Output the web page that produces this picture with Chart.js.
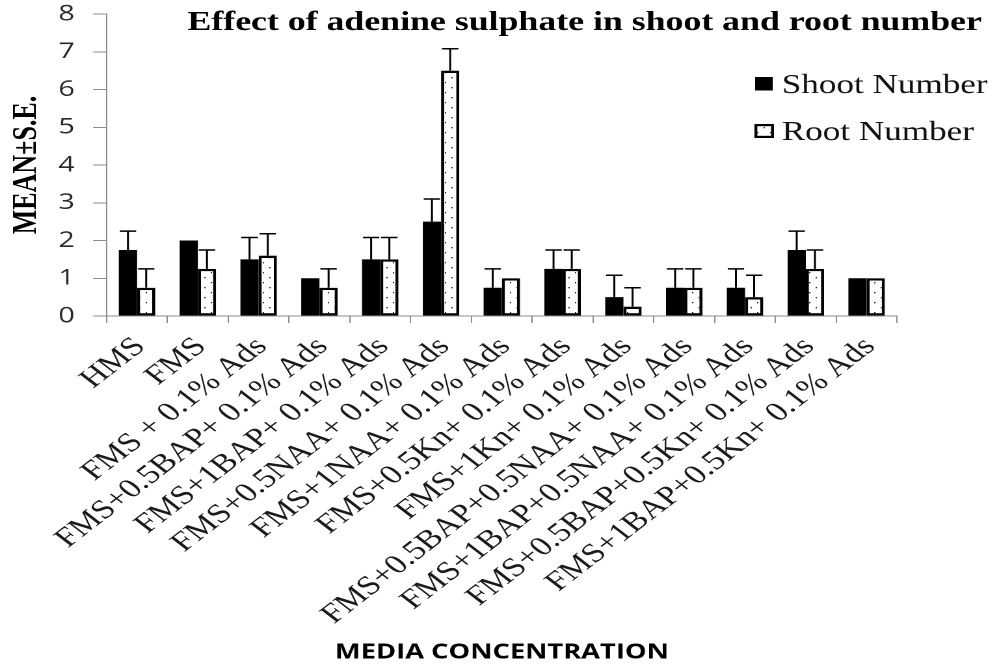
<!DOCTYPE html>
<html>
<head>
<meta charset="utf-8">
<title>Effect of adenine sulphate in shoot and root number</title>
<script src="https://cdn.jsdelivr.net/npm/chart.js@4.4.1/dist/chart.umd.min.js"></script>
<style>
  html, body { margin: 0; padding: 0; background: #fff; overflow: hidden; width: 999px; height: 666px; }
  /* the chart is laid out on a 768px-wide canvas and widened to the page */
  #wrap { width: 768px; height: 666px; transform: scaleX(1.30078); transform-origin: 0 0; }
  canvas { display: block; }
</style>
</head>
<body>
<div id="wrap"><canvas id="c" width="768" height="666"></canvas></div>
<script>
// Media treatments (x categories)
const categories = [
  'HMS',
  'FMS',
  'FMS + 0.1% Ads',
  'FMS+0.5BAP+ 0.1% Ads',
  'FMS+1BAP+ 0.1% Ads',
  'FMS+0.5NAA+ 0.1% Ads',
  'FMS+1NAA+ 0.1% Ads',
  'FMS+0.5Kn+ 0.1% Ads',
  'FMS+1Kn+ 0.1% Ads',
  'FMS+0.5BAP+0.5NAA+ 0.1% Ads',
  'FMS+1BAP+0.5NAA+ 0.1% Ads',
  'FMS+0.5BAP+0.5Kn+ 0.1% Ads',
  'FMS+1BAP+0.5Kn+ 0.1% Ads'
];

// Means and standard errors
const shootNumber = [1.75, 2.0, 1.5, 1.0, 1.5, 2.5, 0.75, 1.25, 0.5, 0.75, 0.75, 1.75, 1.0];
const shootSE     = [0.5, 0, 0.58, 0, 0.58, 0.6, 0.5, 0.5, 0.58, 0.5, 0.5, 0.5, 0];
const rootNumber  = [0.75, 1.25, 1.6, 0.75, 1.5, 6.5, 1.0, 1.25, 0.25, 0.75, 0.5, 1.25, 1.0];
const rootSE      = [0.5, 0.5, 0.58, 0.5, 0.58, 0.58, 0, 0.5, 0.5, 0.5, 0.58, 0.5, 0];

const yTicks = [0, 1, 2, 3, 4, 5, 6, 7, 8];

const chartTitle = 'Effect of adenine sulphate in shoot and root number';
const seriesNames = ['Shoot Number', 'Root Number'];
const yTitle = 'MEAN\u00B1S.E.';
const xTitle = 'MEDIA CONCENTRATION';

const SERIF = '"Liberation Serif", "Times New Roman", serif';
const SANS = '"Open Sans", "Liberation Sans", sans-serif';
const AXIS_GREY = '#8c8c8c';

// Dotted fill for the root bars (tile drawn at 2x, mapped back to chart units)
function dotPattern() {
  const t = document.createElement('canvas');
  t.width = 20; t.height = 20;
  const g = t.getContext('2d');
  g.fillStyle = '#fff';
  g.fillRect(0, 0, 20, 20);
  g.fillStyle = '#1e1e1e';
  g.fillRect(4, 4, 2, 2.6);
  g.fillRect(14, 14, 2, 2.6);
  const p = document.createElement('canvas').getContext('2d').createPattern(t, 'repeat');
  p.setTransform(new DOMMatrix([0.5, 0, 0, 0.5, 0, 0]));
  return p;
}
const dots = dotPattern();

// Upper error whiskers with caps
const errorBars = {
  id: 'errorBars',
  afterDatasetsDraw(chart) {
    const ctx = chart.ctx;
    const y = chart.scales.y;
    const seList = [shootSE, rootSE];
    ctx.save();
    ctx.strokeStyle = '#000';
    ctx.lineWidth = 1.5;
    chart.data.datasets.forEach((ds, di) => {
      const meta = chart.getDatasetMeta(di);
      meta.data.forEach((bar, i) => {
        const se = seList[di][i];
        if (!se) return;
        const { x, width } = bar.getProps(['x', 'width'], true);
        const top = y.getPixelForValue(ds.data[i]);
        const end = y.getPixelForValue(ds.data[i] + se);
        const half = width * 0.45;
        ctx.beginPath();
        ctx.moveTo(x, top);
        ctx.lineTo(x, end);
        ctx.moveTo(x - half, end);
        ctx.lineTo(x + half, end);
        ctx.stroke();
      });
    });
    ctx.restore();
  }
};

// Heading and series key
const headingAndKey = {
  id: 'headingAndKey',
  afterDraw(chart) {
    const ctx = chart.ctx;
    ctx.save();
    ctx.fillStyle = '#000';
    ctx.font = 'bold 27.5px ' + SERIF;
    ctx.textAlign = 'center';
    ctx.textBaseline = 'alphabetic';
    ctx.fillText(chartTitle, 449.5, 30);

    ctx.textAlign = 'left';
    ctx.font = '27px ' + SERIF;
    // Shoot Number key
    ctx.fillStyle = '#000';
    ctx.fillRect(580.5, 77, 13.5, 13.5);
    ctx.fillStyle = '#111';
    ctx.fillText(seriesNames[0], 601, 93);
    // Root Number key
    ctx.fillStyle = dots;
    ctx.fillRect(580, 124, 15, 14);
    ctx.strokeStyle = '#000';
    ctx.lineWidth = 2.2;
    ctx.strokeRect(581.1, 125.1, 12.8, 11.8);
    ctx.fillStyle = '#111';
    ctx.fillText(seriesNames[1], 601, 140);
    ctx.restore();
  }
};

new Chart(document.getElementById('c'), {
  type: 'bar',
  data: {
    labels: categories,
    datasets: [
      {
        label: seriesNames[0],
        data: shootNumber,
        backgroundColor: '#000',
        borderWidth: 0,
        categoryPercentage: 0.6,
        barPercentage: 1.0
      },
      {
        label: seriesNames[1],
        data: rootNumber,
        backgroundColor: dots,
        borderColor: '#000',
        borderWidth: 2.4,
        borderSkipped: false,
        categoryPercentage: 0.6,
        barPercentage: 1.0
      }
    ]
  },
  options: {
    responsive: false,
    devicePixelRatio: 2,
    animation: false,
    layout: { padding: { top: 14, right: 78.4, bottom: 0, left: 0 } },
    plugins: {
      legend: { display: false },
      tooltip: { enabled: false },
      title: { display: false }
    },
    scales: {
      x: {
        grid: {
          display: true,
          drawOnChartArea: false,
          drawTicks: true,
          tickLength: 7,
          color: AXIS_GREY,
          offset: true
        },
        border: { display: true, color: AXIS_GREY, width: 1 },
        ticks: {
          autoSkip: false,
          maxRotation: 45,
          minRotation: 45,
          padding: 8,
          labelOffset: 2.5,
          color: '#1a1a1a',
          font: { family: SERIF, size: 27 }
        },
        title: {
          display: true,
          text: xTitle,
          color: '#000',
          font: { family: SANS, size: 21, weight: 'bold' },
          padding: { top: 0, bottom: 1 }
        },
        afterFit(scale) {
          scale.height = 350;
          scale.paddingLeft = 0;
          scale.paddingRight = 0;
        }
      },
      y: {
        min: 0,
        max: 8,
        afterBuildTicks(scale) {
          scale.ticks = yTicks.map(v => ({ value: v }));
        },
        grid: {
          display: true,
          drawOnChartArea: false,
          drawTicks: true,
          tickLength: 10.5,
          color: AXIS_GREY
        },
        border: { display: true, color: AXIS_GREY, width: 1 },
        ticks: {
          padding: 14,
          color: '#2a2a2a',
          font: { family: SANS, size: 22 }
        },
        title: {
          display: true,
          text: yTitle,
          color: '#000',
          font: { family: SERIF, size: 26, weight: 'bold', lineHeight: 1.2 },
          padding: { top: 5, bottom: 0 }
        },
        afterFit(scale) {
          scale.width = 82;
          scale.paddingTop = 0;
          scale.paddingBottom = 0;
        }
      }
    }
  },
  plugins: [errorBars, headingAndKey]
});
</script>
</body>
</html>
